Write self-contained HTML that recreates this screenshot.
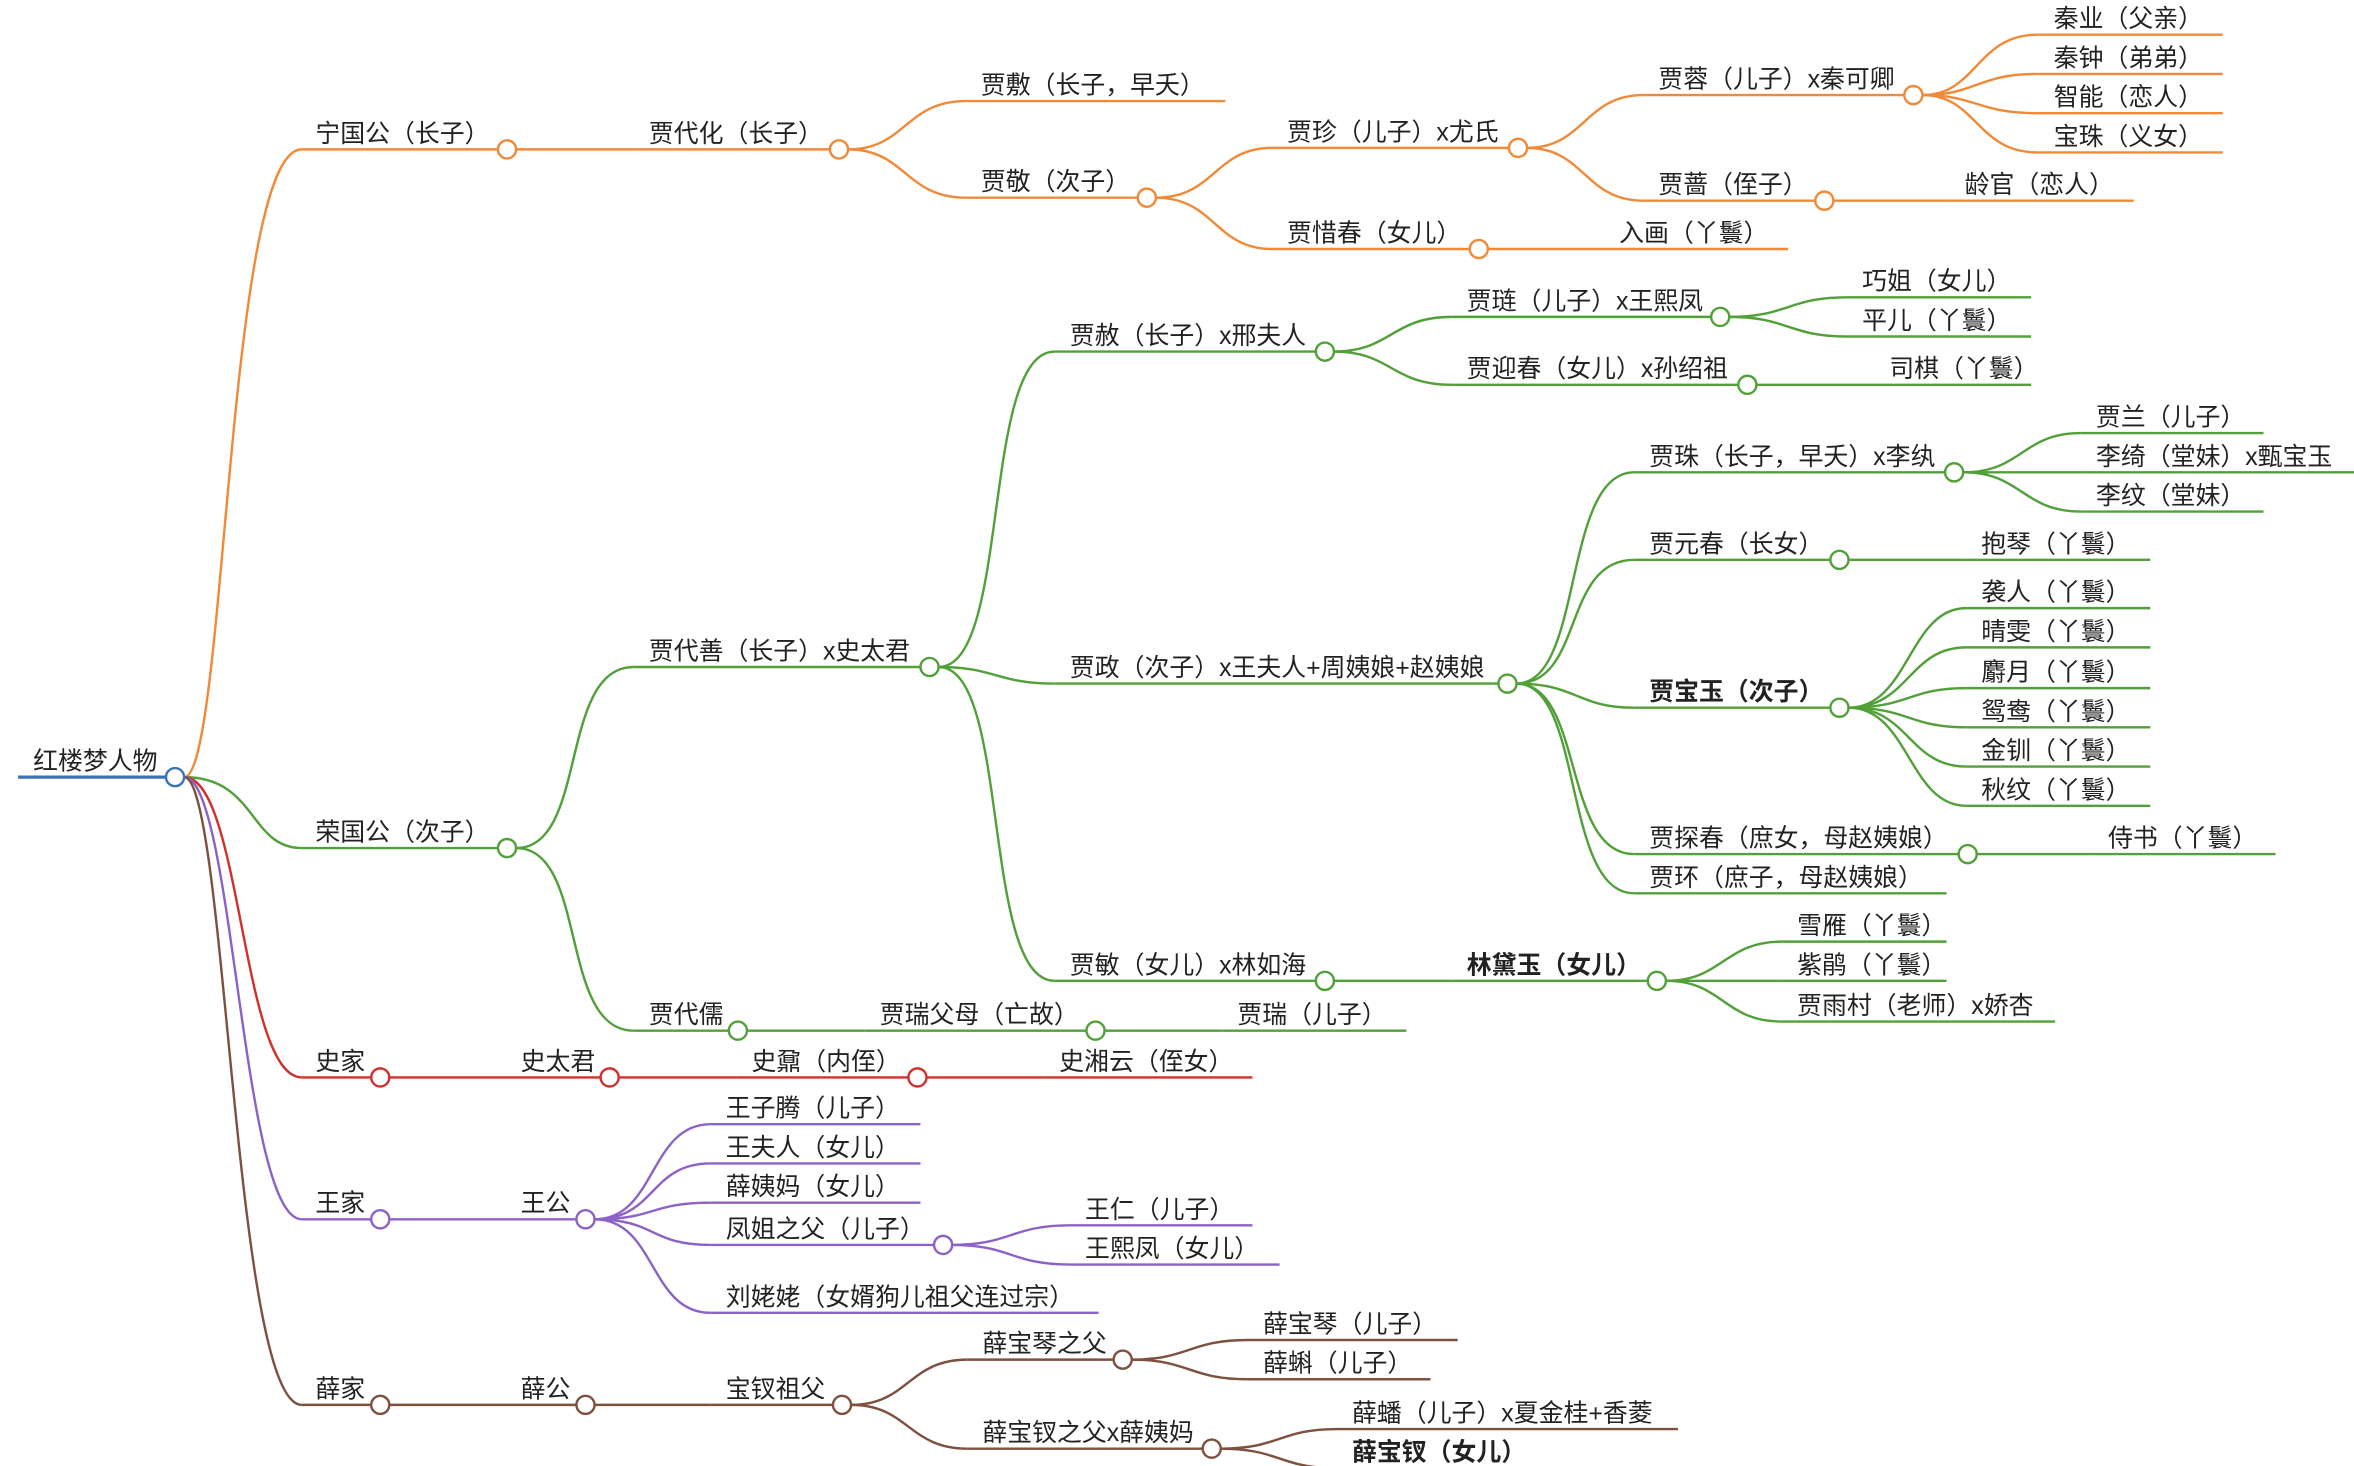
<!DOCTYPE html>
<html><head><meta charset="utf-8"><style>
html,body{margin:0;padding:0;background:#fff;}
svg{display:block;}
text{font-family:"Liberation Sans","Noto Sans CJK SC",sans-serif;font-size:16.5px;fill:#222;}
.b{font-weight:bold;}
.o{stroke:#f08a38;}.g{stroke:#52a03a;}.r{stroke:#d0312d;}.p{stroke:#8c62c6;}.n{stroke:#7d5040;}.bl{stroke:#3d72b4;}
path,line{fill:none;stroke-width:1.6;}
circle{fill:#fff;stroke-width:1.6;}
</style></head><body>
<svg width="2354" height="1466" viewBox="0 0 1560 971.5" preserveAspectRatio="none" xmlns="http://www.w3.org/2000/svg">
<!-- connectors -->
<g>
<!-- root -->
<path class="o" d="M122,515 C150,515 150,99 200,99"/>
<path class="g" d="M122,515 C170,515 165,562 200,562"/>
<path class="r" d="M122,515 C160,515 160,714 200,714"/>
<path class="p" d="M122,515 C155,515 160,808 200,808"/>
<path class="n" d="M122,515 C150,515 155,931 200,931"/>
<!-- orange -->
<path class="o" d="M342,99 L420,99"/>
<path class="o" d="M562,99 C600,99 600,67 640,67"/>
<path class="o" d="M562,99 C600,99 600,131 640,131"/>
<path class="o" d="M766,131 C805,131 805,98 843,98"/>
<path class="o" d="M766,131 C805,131 805,165 843,165"/>
<path class="o" d="M986,165 L1063,165"/>
<path class="o" d="M1012,98 C1050,98 1050,63 1089,63"/>
<path class="o" d="M1012,98 C1050,98 1050,133 1089,133"/>
<path class="o" d="M1215,133 L1292,133"/>
<path class="o" d="M1274,63 C1310,63 1310,23 1350,23"/>
<path class="o" d="M1274,63 C1310,63 1310,49 1350,49"/>
<path class="o" d="M1274,63 C1310,63 1310,75 1350,75"/>
<path class="o" d="M1274,63 C1310,63 1310,101 1350,101"/>
<!-- green -->
<path class="g" d="M342,562 C390,562 370,442 420,442"/>
<path class="g" d="M342,562 C390,562 370,683 420,683"/>
<path class="g" d="M495,683 L573,683"/>
<path class="g" d="M732,683 L810,683"/>
<path class="g" d="M622,442 C670,442 650,233 699,233"/>
<path class="g" d="M622,442 C660,442 660,453 699,453"/>
<path class="g" d="M622,442 C670,442 650,650 699,650"/>
<path class="g" d="M884,233 C922,233 922,210 962,210"/>
<path class="g" d="M884,233 C922,233 922,255 962,255"/>
<path class="g" d="M1146,210 C1185,210 1185,197 1224,197"/>
<path class="g" d="M1146,210 C1185,210 1185,223 1224,223"/>
<path class="g" d="M1164,255 L1242,255"/>
<path class="g" d="M1005,453 C1050,453 1035,313 1083,313"/>
<path class="g" d="M1005,453 C1050,453 1035,371 1083,371"/>
<path class="g" d="M1005,453 C1045,453 1045,469 1083,469"/>
<path class="g" d="M1005,453 C1050,453 1035,566 1083,566"/>
<path class="g" d="M1005,453 C1050,453 1035,592 1083,592"/>
<path class="g" d="M1301,313 C1340,313 1340,287 1379,287"/>
<path class="g" d="M1301,313 L1379,313"/>
<path class="g" d="M1301,313 C1340,313 1340,339 1379,339"/>
<path class="g" d="M1225,371 L1303,371"/>
<path class="g" d="M1225,469 C1265,469 1265,403 1303,403"/>
<path class="g" d="M1225,469 C1265,469 1265,429 1303,429"/>
<path class="g" d="M1225,469 C1265,469 1265,456 1303,456"/>
<path class="g" d="M1225,469 C1265,469 1265,482 1303,482"/>
<path class="g" d="M1225,469 C1265,469 1265,508 1303,508"/>
<path class="g" d="M1225,469 C1265,469 1265,534 1303,534"/>
<path class="g" d="M1310,566 L1387,566"/>
<path class="g" d="M884,650 L962,650"/>
<path class="g" d="M1104,650 C1142,650 1142,624 1181,624"/>
<path class="g" d="M1104,650 L1181,650"/>
<path class="g" d="M1104,650 C1142,650 1142,677 1181,677"/>
<!-- red -->
<path class="r" d="M258,714 L335,714"/>
<path class="r" d="M410,714 L488,714"/>
<path class="r" d="M614,714 L692,714"/>
<!-- purple -->
<path class="p" d="M258,808 L335,808"/>
<path class="p" d="M394,808 C435,808 430,745 471,745"/>
<path class="p" d="M394,808 C435,808 430,771 471,771"/>
<path class="p" d="M394,808 C435,808 430,797 471,797"/>
<path class="p" d="M394,808 C435,808 430,825 471,825"/>
<path class="p" d="M394,808 C435,808 430,870 471,870"/>
<path class="p" d="M631,825 C670,825 670,812 709,812"/>
<path class="p" d="M631,825 C670,825 670,838 709,838"/>
<!-- brown -->
<path class="n" d="M258,931 L335,931"/>
<path class="n" d="M394,931 L471,931"/>
<path class="n" d="M564,931 C602,931 602,901 641,901"/>
<path class="n" d="M564,931 C602,931 602,960 641,960"/>
<path class="n" d="M750,901 C788,901 788,888 827,888"/>
<path class="n" d="M750,901 C788,901 788,914 827,914"/>
<path class="n" d="M809,960 C848,960 848,947 886,947"/>
<path class="n" d="M809,960 C848,960 848,973 886,973"/>
</g>
<!-- underlines -->
<g>
<line class="bl" x1="12" y1="515" x2="110" y2="515" style="stroke-width:2.2"/>
<line class="o" x1="200" y1="99" x2="330" y2="99"/>
<line class="o" x1="420" y1="99" x2="550" y2="99"/>
<line class="o" x1="640" y1="67" x2="812" y2="67"/>
<line class="o" x1="640" y1="131" x2="754" y2="131"/>
<line class="o" x1="843" y1="98" x2="1000" y2="98"/>
<line class="o" x1="843" y1="165" x2="974" y2="165"/>
<line class="o" x1="1063" y1="165" x2="1185" y2="165"/>
<line class="o" x1="1089" y1="63" x2="1262" y2="63"/>
<line class="o" x1="1089" y1="133" x2="1203" y2="133"/>
<line class="o" x1="1292" y1="133" x2="1414" y2="133"/>
<line class="o" x1="1350" y1="23" x2="1473" y2="23"/>
<line class="o" x1="1350" y1="49" x2="1473" y2="49"/>
<line class="o" x1="1350" y1="75" x2="1473" y2="75"/>
<line class="o" x1="1350" y1="101" x2="1473" y2="101"/>
<line class="g" x1="200" y1="562" x2="330" y2="562"/>
<line class="g" x1="420" y1="442" x2="610" y2="442"/>
<line class="g" x1="420" y1="683" x2="483" y2="683"/>
<line class="g" x1="573" y1="683" x2="720" y2="683"/>
<line class="g" x1="810" y1="683" x2="932" y2="683"/>
<line class="g" x1="699" y1="233" x2="872" y2="233"/>
<line class="g" x1="699" y1="453" x2="993" y2="453"/>
<line class="g" x1="699" y1="650" x2="872" y2="650"/>
<line class="g" x1="962" y1="210" x2="1134" y2="210"/>
<line class="g" x1="962" y1="255" x2="1152" y2="255"/>
<line class="g" x1="1224" y1="197" x2="1346" y2="197"/>
<line class="g" x1="1224" y1="223" x2="1346" y2="223"/>
<line class="g" x1="1242" y1="255" x2="1346" y2="255"/>
<line class="g" x1="1083" y1="313" x2="1289" y2="313"/>
<line class="g" x1="1083" y1="371" x2="1213" y2="371"/>
<line class="g" x1="1083" y1="469" x2="1213" y2="469"/>
<line class="g" x1="1083" y1="566" x2="1298" y2="566"/>
<line class="g" x1="1083" y1="592" x2="1290" y2="592"/>
<line class="g" x1="1379" y1="287" x2="1500" y2="287"/>
<line class="g" x1="1379" y1="313" x2="1560" y2="313"/>
<line class="g" x1="1379" y1="339" x2="1500" y2="339"/>
<line class="g" x1="1303" y1="371" x2="1425" y2="371"/>
<line class="g" x1="1303" y1="403" x2="1425" y2="403"/>
<line class="g" x1="1303" y1="429" x2="1425" y2="429"/>
<line class="g" x1="1303" y1="456" x2="1425" y2="456"/>
<line class="g" x1="1303" y1="482" x2="1425" y2="482"/>
<line class="g" x1="1303" y1="508" x2="1425" y2="508"/>
<line class="g" x1="1303" y1="534" x2="1425" y2="534"/>
<line class="g" x1="1387" y1="566" x2="1508" y2="566"/>
<line class="g" x1="962" y1="650" x2="1092" y2="650"/>
<line class="g" x1="1181" y1="624" x2="1290" y2="624"/>
<line class="g" x1="1181" y1="650" x2="1290" y2="650"/>
<line class="g" x1="1181" y1="677" x2="1362" y2="677"/>
<line class="r" x1="200" y1="714" x2="246" y2="714"/>
<line class="r" x1="335" y1="714" x2="398" y2="714"/>
<line class="r" x1="488" y1="714" x2="602" y2="714"/>
<line class="r" x1="692" y1="714" x2="830" y2="714"/>
<line class="p" x1="200" y1="808" x2="246" y2="808"/>
<line class="p" x1="335" y1="808" x2="382" y2="808"/>
<line class="p" x1="471" y1="745" x2="610" y2="745"/>
<line class="p" x1="471" y1="771" x2="610" y2="771"/>
<line class="p" x1="471" y1="797" x2="610" y2="797"/>
<line class="p" x1="471" y1="825" x2="619" y2="825"/>
<line class="p" x1="471" y1="870" x2="728" y2="870"/>
<line class="p" x1="709" y1="812" x2="830" y2="812"/>
<line class="p" x1="709" y1="838" x2="848" y2="838"/>
<line class="n" x1="200" y1="931" x2="246" y2="931"/>
<line class="n" x1="335" y1="931" x2="382" y2="931"/>
<line class="n" x1="471" y1="931" x2="552" y2="931"/>
<line class="n" x1="641" y1="901" x2="738" y2="901"/>
<line class="n" x1="641" y1="960" x2="797" y2="960"/>
<line class="n" x1="827" y1="888" x2="966" y2="888"/>
<line class="n" x1="827" y1="914" x2="948" y2="914"/>
<line class="n" x1="886" y1="947" x2="1112" y2="947"/>
<line class="n" x1="886" y1="973" x2="1025" y2="973"/>
</g>
<!-- circles -->
<g>
<circle class="bl" cx="116" cy="515" r="6"/>
<circle class="o" cx="336" cy="99" r="6"/>
<circle class="o" cx="556" cy="99" r="6"/>
<circle class="o" cx="760" cy="131" r="6"/>
<circle class="o" cx="1006" cy="98" r="6"/>
<circle class="o" cx="980" cy="165" r="6"/>
<circle class="o" cx="1268" cy="63" r="6"/>
<circle class="o" cx="1209" cy="133" r="6"/>
<circle class="g" cx="336" cy="562" r="6"/>
<circle class="g" cx="616" cy="442" r="6"/>
<circle class="g" cx="489" cy="683" r="6"/>
<circle class="g" cx="726" cy="683" r="6"/>
<circle class="g" cx="878" cy="233" r="6"/>
<circle class="g" cx="999" cy="453" r="6"/>
<circle class="g" cx="878" cy="650" r="6"/>
<circle class="g" cx="1140" cy="210" r="6"/>
<circle class="g" cx="1158" cy="255" r="6"/>
<circle class="g" cx="1295" cy="313" r="6"/>
<circle class="g" cx="1219" cy="371" r="6"/>
<circle class="g" cx="1219" cy="469" r="6"/>
<circle class="g" cx="1304" cy="566" r="6"/>
<circle class="g" cx="1098" cy="650" r="6"/>
<circle class="r" cx="252" cy="714" r="6"/>
<circle class="r" cx="404" cy="714" r="6"/>
<circle class="r" cx="608" cy="714" r="6"/>
<circle class="p" cx="252" cy="808" r="6"/>
<circle class="p" cx="388" cy="808" r="6"/>
<circle class="p" cx="625" cy="825" r="6"/>
<circle class="n" cx="252" cy="931" r="6"/>
<circle class="n" cx="388" cy="931" r="6"/>
<circle class="n" cx="558" cy="931" r="6"/>
<circle class="n" cx="744" cy="901" r="6"/>
<circle class="n" cx="803" cy="960" r="6"/>
</g>
<!-- labels -->
<g>
<text x="22" y="510">红楼梦人物</text>
<text x="209" y="94">宁国公（长子）</text>
<text x="430" y="94">贾代化（长子）</text>
<text x="650" y="62">贾敷（长子，早夭）</text>
<text x="650" y="126">贾敬（次子）</text>
<text x="853" y="93">贾珍（儿子）x尤氏</text>
<text x="853" y="160">贾惜春（女儿）</text>
<text x="1073" y="160">入画（丫鬟）</text>
<text x="1099" y="58">贾蓉（儿子）x秦可卿</text>
<text x="1099" y="128">贾蔷（侄子）</text>
<text x="1302" y="128">龄官（恋人）</text>
<text x="1361" y="18">秦业（父亲）</text>
<text x="1361" y="44">秦钟（弟弟）</text>
<text x="1361" y="70">智能（恋人）</text>
<text x="1361" y="96">宝珠（义女）</text>
<text x="209" y="557">荣国公（次子）</text>
<text x="430" y="437">贾代善（长子）x史太君</text>
<text x="430" y="678">贾代儒</text>
<text x="583" y="678">贾瑞父母（亡故）</text>
<text x="820" y="678">贾瑞（儿子）</text>
<text x="709" y="228">贾赦（长子）x邢夫人</text>
<text x="709" y="448">贾政（次子）x王夫人+周姨娘+赵姨娘</text>
<text x="709" y="645">贾敏（女儿）x林如海</text>
<text x="972" y="205">贾琏（儿子）x王熙凤</text>
<text x="972" y="250">贾迎春（女儿）x孙绍祖</text>
<text x="1234" y="192">巧姐（女儿）</text>
<text x="1234" y="218">平儿（丫鬟）</text>
<text x="1252" y="250">司棋（丫鬟）</text>
<text x="1093" y="308">贾珠（长子，早夭）x李纨</text>
<text x="1093" y="366">贾元春（长女）</text>
<text x="1093" y="464" class="b">贾宝玉（次子）</text>
<text x="1093" y="561">贾探春（庶女，母赵姨娘）</text>
<text x="1093" y="587">贾环（庶子，母赵姨娘）</text>
<text x="1389" y="282">贾兰（儿子）</text>
<text x="1389" y="308">李绮（堂妹）x甄宝玉</text>
<text x="1389" y="334">李纹（堂妹）</text>
<text x="1313" y="366">抱琴（丫鬟）</text>
<text x="1313" y="398">袭人（丫鬟）</text>
<text x="1313" y="424">晴雯（丫鬟）</text>
<text x="1313" y="451">麝月（丫鬟）</text>
<text x="1313" y="477">鸳鸯（丫鬟）</text>
<text x="1313" y="503">金钏（丫鬟）</text>
<text x="1313" y="529">秋纹（丫鬟）</text>
<text x="1397" y="561">侍书（丫鬟）</text>
<text x="972" y="645" class="b">林黛玉（女儿）</text>
<text x="1191" y="619">雪雁（丫鬟）</text>
<text x="1191" y="645">紫鹃（丫鬟）</text>
<text x="1191" y="672">贾雨村（老师）x娇杏</text>
<text x="209" y="709">史家</text>
<text x="345" y="709">史太君</text>
<text x="498" y="709">史鼐（内侄）</text>
<text x="702" y="709">史湘云（侄女）</text>
<text x="209" y="803">王家</text>
<text x="345" y="803">王公</text>
<text x="481" y="740">王子腾（儿子）</text>
<text x="481" y="766">王夫人（女儿）</text>
<text x="481" y="792">薛姨妈（女儿）</text>
<text x="481" y="820">凤姐之父（儿子）</text>
<text x="481" y="865">刘姥姥（女婿狗儿祖父连过宗）</text>
<text x="719" y="807">王仁（儿子）</text>
<text x="719" y="833">王熙凤（女儿）</text>
<text x="209" y="926">薛家</text>
<text x="345" y="926">薛公</text>
<text x="481" y="926">宝钗祖父</text>
<text x="651" y="896">薛宝琴之父</text>
<text x="651" y="955">薛宝钗之父x薛姨妈</text>
<text x="837" y="883">薛宝琴（儿子）</text>
<text x="837" y="909">薛蝌（儿子）</text>
<text x="896" y="942">薛蟠（儿子）x夏金桂+香菱</text>
<text x="896" y="968" class="b">薛宝钗（女儿）</text>
</g>
</svg>
</body></html>
